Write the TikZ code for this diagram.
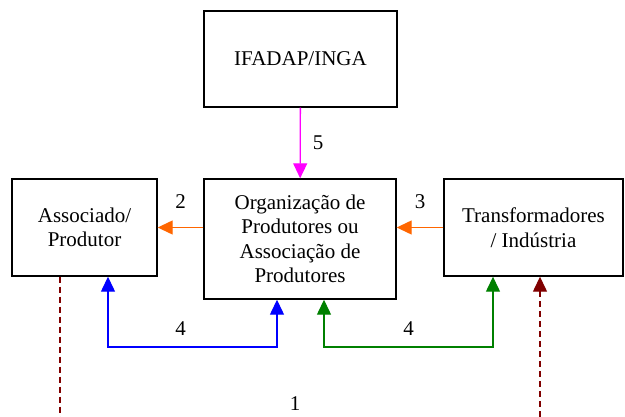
\documentclass[tikz,border=0pt]{standalone}
\usepackage{fontspec}
\setmainfont{Liberation Serif}
\usetikzlibrary{arrows.meta}
\definecolor{laranja}{RGB}{255,102,0}
\definecolor{verde}{RGB}{0,128,0}
\definecolor{vinho}{RGB}{128,0,0}
\definecolor{rosa}{RGB}{255,0,255}
\begin{document}
\begin{tikzpicture}[x=1pt,y=-1pt,
    font=\rmfamily\fontsize{21}{24.5}\selectfont,
    caixa/.style={draw, line width=1.4pt, align=center, inner sep=0pt},
    seta/.style={line width=1.3pt, -{Triangle[length=15pt,width=14pt]}},
    setas/.style={line width=1.3pt, {Triangle[length=15pt,width=14pt]}-{Triangle[length=15pt,width=14pt]}},
    rotulo/.style={inner sep=0pt}]
  \def\fundo{347}
  \def\base{417}

  \useasboundingbox (0,0) rectangle (625,417);

  \node[caixa, minimum width=193pt, minimum height=96pt] (ifadap) at (300.5,59) {IFADAP/INGA};
  \node[caixa, minimum width=145pt, minimum height=97pt] (assoc) at (84.5,227.5) {Associado/\\Produtor};
  \node[caixa, minimum width=192pt, minimum height=120pt] (org) at (300,239)
    {Organização de\\Produtores ou\\Associação de\\Produtores};
  \node[caixa, minimum width=179pt, minimum height=97pt] (transf) at (533.5,227.5) {Transformadores\\/ Indústria};

  \coordinate (azul1) at (108,\fundo);
  \coordinate (azul2) at (277,\fundo);
  \coordinate (verde1) at (324,\fundo);
  \coordinate (verde2) at (493,\fundo);
  \coordinate (desce) at (60,\base);
  \coordinate (sobe) at (540,\base);

  % fluxos entre as caixas
  \draw[seta, rosa] (ifadap) -- (org) node[rotulo, midway, right=12pt, black] {5};
  \draw[seta, laranja] (assoc.east -| org.west) -- (assoc.east) node[rotulo, midway, yshift=26pt, black] {2};
  \draw[seta, laranja] (transf.west) -- (transf.west -| org.east) node[rotulo, midway, yshift=26pt, black] {3};

  \draw[setas, blue] (assoc.south -| azul1) -- (azul1) -- node[rotulo, pos=0.43, yshift=18pt, black] {4} (azul2) -- (org.south -| azul2);
  \draw[setas, verde] (org.south -| verde1) -- (verde1) -- node[rotulo, midway, yshift=18pt, black] {4} (verde2) -- (transf.south -| verde2);

  \draw[line width=1.3pt, vinho, dash pattern=on 6pt off 4pt] (assoc.south -| desce) -- (desce);
  \draw[seta, vinho, dash pattern=on 6pt off 4pt] (sobe) -- (transf.south -| sobe);
  \node[rotulo] (um) at (295,404) {1};
\end{tikzpicture}
\end{document}
